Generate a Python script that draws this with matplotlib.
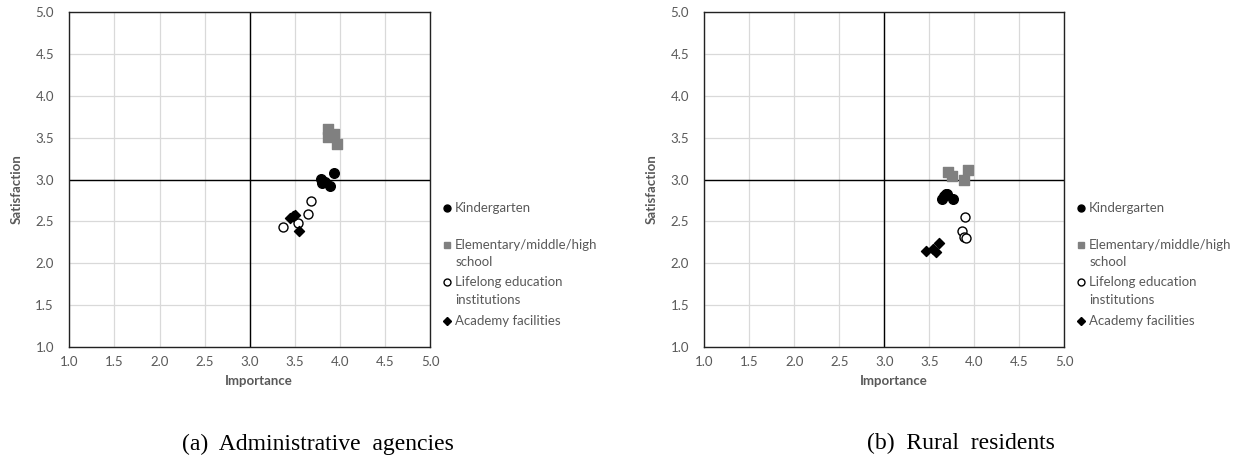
import matplotlib
matplotlib.use('Agg')
import matplotlib.pyplot as plt

plt.rcParams['font.family'] = ['Lato', 'DejaVu Sans']

# ---------------- Data ----------------
series_names = ['Kindergarten', 'Elementary/middle/high\nschool',
                'Lifelong education\ninstitutions', 'Academy facilities']

# (a) Administrative agencies
a_kinder_x = [3.79, 3.80, 3.83, 3.89, 3.93]
a_kinder_y = [3.01, 2.96, 2.97, 2.92, 3.08]
a_school_x = [3.87, 3.87, 3.93, 3.97]
a_school_y = [3.61, 3.51, 3.54, 3.43]
a_life_x = [3.37, 3.53, 3.64, 3.68]
a_life_y = [2.43, 2.48, 2.59, 2.74]
a_acad_x = [3.45, 3.48, 3.50, 3.54]
a_acad_y = [2.54, 2.56, 2.58, 2.39]

# (b) Rural residents
b_kinder_x = [3.64, 3.66, 3.68, 3.70, 3.76]
b_kinder_y = [2.77, 2.80, 2.83, 2.83, 2.77]
b_school_x = [3.71, 3.75, 3.88, 3.93]
b_school_y = [3.09, 3.04, 2.99, 3.12]
b_life_x = [3.90, 3.86, 3.89, 3.91]
b_life_y = [2.55, 2.38, 2.31, 2.30]
b_acad_x = [3.46, 3.54, 3.57, 3.61]
b_acad_y = [2.15, 2.17, 2.13, 2.24]

ticks = [1.0, 1.5, 2.0, 2.5, 3.0, 3.5, 4.0, 4.5, 5.0]
captions = ['(a)  Administrative  agencies', '(b)  Rural  residents']

GREY = '#595959'

# marker styles per series (for plot and legend)
styles = [
    dict(marker='o', color='black', mfc='black', mec='black'),
    dict(marker='s', color='#808080', mfc='#808080', mec='#808080'),
    dict(marker='o', color='black', mfc='white', mec='black'),
    dict(marker='D', color='black', mfc='black', mec='black'),
]
# Excel-like legend: first-line positions in axes fraction
legend_y = [0.414, 0.304, 0.193, 0.077]
line_step = 0.052


def draw_panel(ax, kx, ky, sx, sy, lx, ly, dx, dy):
    ax.set_xlim(1, 5)
    ax.set_ylim(1, 5)
    ax.set_xticks(ticks)
    ax.set_yticks(ticks)
    ax.set_xticklabels([f'{t:.1f}' for t in ticks])
    ax.set_yticklabels([f'{t:.1f}' for t in ticks])
    ax.tick_params(axis='x', length=0, labelsize=9.5, labelcolor=GREY, pad=7)
    ax.tick_params(axis='y', length=0, labelsize=9.5, labelcolor=GREY, pad=11)
    ax.grid(True, color='#d9d9d9', linewidth=0.9)
    ax.set_axisbelow(True)
    for s in ax.spines.values():
        s.set_color('#222222')
        s.set_linewidth(1.0)
    ax.axvline(3.0, color='black', linewidth=1.0, zorder=2)
    ax.axhline(3.0, color='black', linewidth=1.0, zorder=2)

    ax.scatter(kx, ky, marker='o', s=48, color='black', zorder=3)
    ax.scatter(sx, sy, marker='s', s=48, color='#808080', zorder=3)
    ax.scatter(lx, ly, marker='o', s=42, facecolor='white', edgecolor='black',
               linewidth=1.0, zorder=3)
    ax.scatter(dx, dy, marker='D', s=26, color='black', zorder=3)

    ax.set_xlabel('Importance', fontsize=9.5, fontweight='bold', color=GREY, labelpad=0)
    ax.xaxis.set_label_coords(0.525, -0.085)
    ax.set_ylabel('Satisfaction', fontsize=9.5, fontweight='bold', color=GREY)
    ax.yaxis.set_label_coords(-0.129, 0.47)

    # legend, drawn by hand so the marker sits on the first line of a wrapped label
    for name, st, y0 in zip(series_names, styles, legend_y):
        ms = 3.6 if st['marker'] == 'D' else 5
        ax.plot([1.047], [y0], linestyle='', marker=st['marker'], markersize=ms,
                markerfacecolor=st['mfc'], markeredgecolor=st['mec'],
                markeredgewidth=1.0, transform=ax.transAxes, clip_on=False)
        for i, line in enumerate(name.split('\n')):
            ax.text(1.069, y0 - i * line_step, line, transform=ax.transAxes,
                    fontsize=9.5, color=GREY, ha='left', va='center')


fig = plt.figure(figsize=(12.43, 4.61), dpi=100)
ax1 = fig.add_axes([0.0557, 0.248, 0.2905, 0.725])
ax2 = fig.add_axes([0.5666, 0.248, 0.2897, 0.725])

draw_panel(ax1, a_kinder_x, a_kinder_y, a_school_x, a_school_y,
           a_life_x, a_life_y, a_acad_x, a_acad_y)
draw_panel(ax2, b_kinder_x, b_kinder_y, b_school_x, b_school_y,
           b_life_x, b_life_y, b_acad_x, b_acad_y)

fig.text(0.256, 0.037, captions[0], ha='center', va='center',
         family='Liberation Serif', fontsize=17)
fig.text(0.773, 0.037, captions[1], ha='center', va='center',
         family='Liberation Serif', fontsize=17)

fig.savefig('out.png', dpi=100)
